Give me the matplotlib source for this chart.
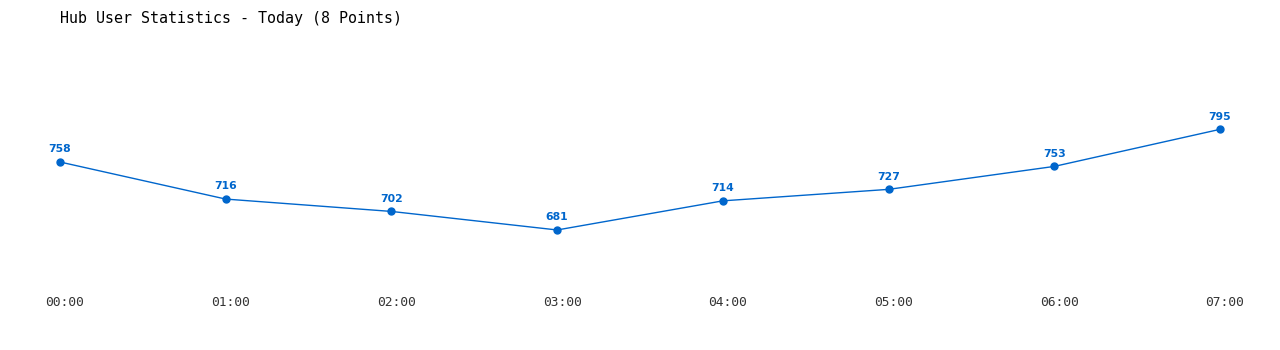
import matplotlib
matplotlib.use("Agg")
import matplotlib.pyplot as plt
from matplotlib.transforms import ScaledTranslation

# data
hours = ["00:00", "01:00", "02:00", "03:00", "04:00", "05:00", "06:00", "07:00"]
users = [758, 716, 702, 681, 714, 727, 753, 795]

blue = "#0066cc"

fig = plt.figure(figsize=(12.8, 3.5), dpi=100)
ax = fig.add_axes([60 / 1280, 60 / 350, 1160 / 1280, 250 / 350])

x = list(range(len(hours)))
ax.plot(x, users, color=blue, lw=1, marker="o", ms=5, clip_on=False)

for xi, v in zip(x, users):
    ax.annotate(str(v), (xi, v), xytext=(0, 5.5), textcoords="offset points",
                ha="center", va="bottom", color=blue, fontsize=7.8,
                fontweight="bold", family="DejaVu Sans")

ax.set_xlim(0, 7)
ax.set_ylim(613.0, 896.2)
ax.set_yticks([])
ax.set_xticks(x)
ax.set_xticklabels(hours, family="DejaVu Sans Mono", fontsize=9.3, color="#333333")
ax.tick_params(axis="x", length=0, pad=4)
# labels sit a few px right of the points
for lbl in ax.get_xticklabels():
    lbl.set_transform(lbl.get_transform() + ScaledTranslation(5 / 100, 0, fig.dpi_scale_trans))
for s in ax.spines.values():
    s.set_visible(False)

fig.text(60 / 1280, 1 - 18 / 350, "Hub User Statistics - Today (8 Points)",
         family="DejaVu Sans Mono", fontsize=10.8, color="#000000", va="center", ha="left")

fig.savefig("out.png", dpi=100)
